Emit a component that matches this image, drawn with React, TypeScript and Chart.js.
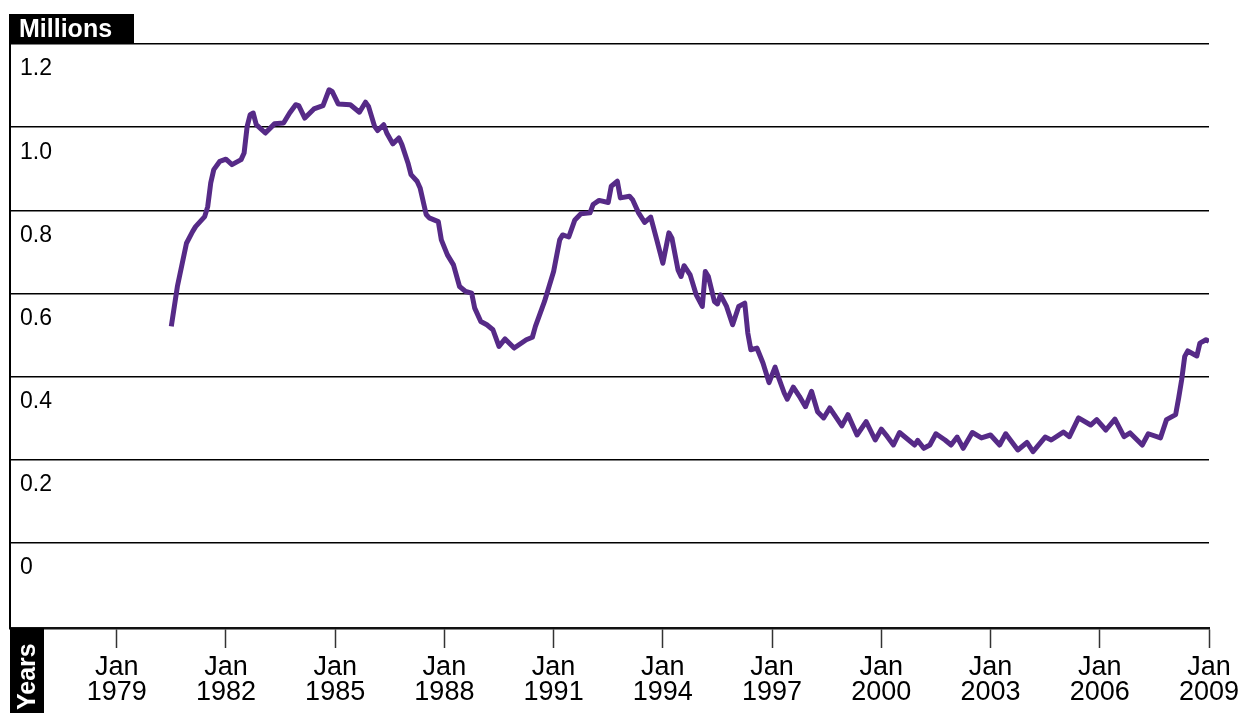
import React, { useEffect, useRef } from 'react';
import { Chart, registerables } from 'chart.js';

Chart.register(...registerables);

// ---- Data ----
const dates: string[] = [
  '1980-07', '1980-09', '1980-12', '1981-02', '1981-03', '1981-06', '1981-07', '1981-08', '1981-09', '1981-11',
  '1982-01', '1982-03', '1982-06', '1982-07', '1982-08', '1982-09', '1982-10', '1982-11', '1983-02', '1983-05',
  '1983-08', '1983-10', '1983-12', '1984-01', '1984-03', '1984-06', '1984-09', '1984-11', '1984-12', '1985-02',
  '1985-06', '1985-09', '1985-11', '1985-12', '1986-02', '1986-03', '1986-05', '1986-06', '1986-08', '1986-10',
  '1986-11', '1987-01', '1987-02', '1987-04', '1987-05', '1987-07', '1987-08', '1987-11', '1987-12', '1988-02',
  '1988-04', '1988-06', '1988-08', '1988-10', '1988-11', '1989-01', '1989-03', '1989-05', '1989-07', '1989-09',
  '1989-12', '1990-04', '1990-06', '1990-07', '1990-10', '1991-01', '1991-03', '1991-04', '1991-06', '1991-08',
  '1991-10', '1992-01', '1992-02', '1992-04', '1992-07', '1992-08', '1992-10', '1992-11', '1993-02', '1993-03',
  '1993-05', '1993-07', '1993-09', '1993-11', '1994-01', '1994-03', '1994-04', '1994-06', '1994-07', '1994-08',
  '1994-10', '1994-12', '1995-02', '1995-03', '1995-04', '1995-06', '1995-07', '1995-08', '1995-10', '1995-12',
  '1996-02', '1996-04', '1996-05', '1996-06', '1996-08', '1996-10', '1996-12', '1997-02', '1997-03', '1997-05',
  '1997-06', '1997-08', '1997-10', '1997-12', '1998-02', '1998-04', '1998-06', '1998-08', '1998-12', '1999-02',
  '1999-05', '1999-08', '1999-11', '2000-01', '2000-03', '2000-05', '2000-07', '2000-10', '2000-12', '2001-01',
  '2001-03', '2001-05', '2001-07', '2001-10', '2001-12', '2002-02', '2002-04', '2002-07', '2002-10', '2003-01',
  '2003-04', '2003-06', '2003-10', '2004-01', '2004-03', '2004-07', '2004-09', '2005-01', '2005-03', '2005-06',
  '2005-10', '2005-12', '2006-03', '2006-06', '2006-09', '2006-11', '2007-03', '2007-05', '2007-09', '2007-11',
  '2008-02', '2008-03', '2008-04', '2008-05', '2008-06', '2008-09', '2008-10', '2008-12', '2009-01',
];

const values: number[] = [
  0.521, 0.617, 0.721, 0.749, 0.761, 0.785, 0.809, 0.866, 0.898, 0.918,
  0.923, 0.910, 0.922, 0.938, 1.002, 1.030, 1.034, 1.006, 0.986, 1.008,
  1.010, 1.034, 1.054, 1.052, 1.022, 1.044, 1.052, 1.090, 1.086, 1.056,
  1.054, 1.036, 1.060, 1.050, 1.002, 0.992, 1.006, 0.986, 0.960, 0.974,
  0.958, 0.914, 0.886, 0.870, 0.854, 0.790, 0.782, 0.773, 0.729, 0.693,
  0.669, 0.617, 0.605, 0.601, 0.565, 0.533, 0.525, 0.513, 0.473, 0.491,
  0.469, 0.489, 0.495, 0.521, 0.581, 0.653, 0.729, 0.741, 0.736, 0.777,
  0.792, 0.794, 0.814, 0.824, 0.819, 0.858, 0.870, 0.830, 0.834, 0.826,
  0.794, 0.771, 0.784, 0.729, 0.673, 0.746, 0.733, 0.657, 0.641, 0.667,
  0.645, 0.597, 0.569, 0.653, 0.641, 0.581, 0.575, 0.597, 0.569, 0.525,
  0.569, 0.577, 0.505, 0.465, 0.469, 0.433, 0.386, 0.423, 0.401, 0.361,
  0.346, 0.375, 0.353, 0.328, 0.365, 0.316, 0.301, 0.325, 0.282, 0.309,
  0.260, 0.292, 0.248, 0.274, 0.256, 0.236, 0.266, 0.248, 0.236, 0.247,
  0.228, 0.236, 0.263, 0.248, 0.236, 0.255, 0.228, 0.266, 0.253, 0.260,
  0.236, 0.263, 0.224, 0.242, 0.220, 0.255, 0.248, 0.267, 0.256, 0.301,
  0.284, 0.297, 0.272, 0.298, 0.256, 0.265, 0.236, 0.263, 0.253, 0.297,
  0.309, 0.349, 0.393, 0.449, 0.462, 0.450, 0.481, 0.489, 0.485,
];

const yTicks: number[] = [0, 0.2, 0.4, 0.6, 0.8, 1.0, 1.2];
const yTickLabels: string[] = ['0', '0.2', '0.4', '0.6', '0.8', '1.0', '1.2'];
const xTickYears: number[] = [1979, 1982, 1985, 1988, 1991, 1994, 1997, 2000, 2003, 2006, 2009];
const xTickLabels: string[][] = xTickYears.map((y) => ['Jan', String(y)]);
const yAxisTitle = 'Millions';
const xAxisTitle = 'Years';

const FONT = '"Liberation Sans", Arial, Helvetica, sans-serif';
const LINE_COLOR = '#562a87';

function toYear(d: string): number {
  const [y, m] = d.split('-').map(Number);
  return y + (m - 1) / 12;
}

const titleBoxes = {
  id: 'titleBoxes',
  afterDraw(chart: any) {
    const { ctx, chartArea } = chart;
    const { left, top, bottom } = chartArea;
    ctx.save();
    // "Millions" box above the plot
    ctx.fillStyle = '#000';
    ctx.fillRect(left - 1, top - 30, 125, 30);
    ctx.fillStyle = '#fff';
    ctx.font = `bold 25px ${FONT}`;
    ctx.textAlign = 'left';
    ctx.textBaseline = 'alphabetic';
    ctx.fillText(yAxisTitle, left + 9, top - 7);
    // "Years" box under the axis, at the left
    ctx.fillStyle = '#000';
    ctx.fillRect(left, bottom, 34, chart.height - bottom);
    ctx.translate(left + 25, chart.height - 3);
    ctx.rotate(-Math.PI / 2);
    ctx.fillStyle = '#fff';
    ctx.fillText(xAxisTitle, 0, 0);
    ctx.restore();
  },
};

export default function App() {
  const canvasRef = useRef<HTMLCanvasElement | null>(null);

  useEffect(() => {
    if (!canvasRef.current) return;
    const chart = new Chart(canvasRef.current, {
      type: 'line',
      data: {
        datasets: [
          {
            data: dates.map((d, i) => ({ x: toYear(d), y: values[i] })),
            borderColor: LINE_COLOR,
            borderWidth: 5,
            pointRadius: 0,
            tension: 0,
            fill: false,
            borderJoinStyle: 'round',
          },
        ],
      },
      options: {
        animation: false,
        responsive: false,
        maintainAspectRatio: false,
        layout: { padding: { left: 10, top: 44, right: 43, bottom: 0 } },
        plugins: { legend: { display: false }, tooltip: { enabled: false } },
        scales: {
          x: {
            type: 'linear',
            min: 1976.07,
            max: 2009,
            afterBuildTicks: (s: any) => {
              s.ticks = xTickYears.map((v) => ({ value: v }));
            },
            afterFit: (s: any) => {
              s.height = 85;
            },
            grid: {
              drawOnChartArea: false,
              drawTicks: true,
              tickLength: 20,
              tickColor: '#333',
              tickWidth: 1.5,
            },
            border: { display: true, color: '#111', width: 2.5 },
            ticks: {
              autoSkip: false,
              maxRotation: 0,
              minRotation: 0,
              padding: 7.5,
              color: '#000',
              font: { family: FONT, size: 27, lineHeight: '25px' },
              callback: (v: any) => {
                const i = xTickYears.indexOf(Number(v));
                return i >= 0 ? xTickLabels[i] : '';
              },
            },
          },
          y: {
            type: 'linear',
            min: -0.204,
            max: 1.2,
            afterBuildTicks: (s: any) => {
              s.ticks = yTicks.map((v) => ({ value: v }));
            },
            afterFit: (s: any) => {
              s.width = 0;
            },
            grid: { drawTicks: false, color: '#000', lineWidth: 1.5 },
            border: { display: true, color: '#000', width: 2 },
            ticks: {
              mirror: true,
              padding: 10,
              labelOffset: 25,
              crossAlign: 'near',
              color: '#000',
              font: { family: FONT, size: 23 },
              callback: (v: any) => {
                const i = yTicks.findIndex((t) => Math.abs(t - Number(v)) < 1e-6);
                return i >= 0 ? yTickLabels[i] : '';
              },
            },
          },
        },
      },
      plugins: [titleBoxes],
    } as any);
    return () => chart.destroy();
  }, []);

  return (
    <div style={{ position: 'absolute', left: 0, top: 0, width: 1252, height: 713, background: '#fff' }}>
      <canvas ref={canvasRef} width={1252} height={713} style={{ display: 'block', width: 1252, height: 713 }} />
    </div>
  );
}
